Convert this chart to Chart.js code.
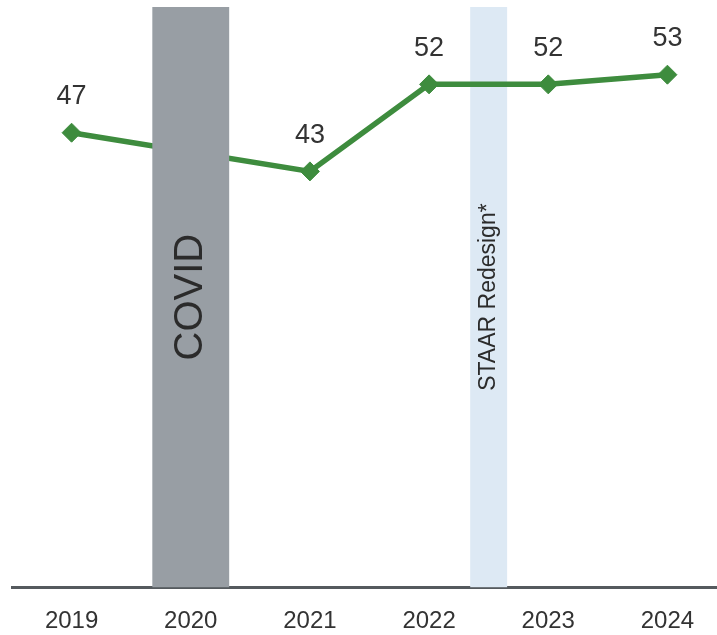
<!DOCTYPE html>
<html>
<head>
<meta charset="utf-8">
<script src="https://cdn.jsdelivr.net/npm/chart.js@4/dist/chart.umd.min.js"></script>
<style>
  html, body { margin: 0; padding: 0; background: #fff; overflow: hidden; }
  #wrap { width: 737px; height: 656px; position: relative; }
</style>
</head>
<body>
<div id="wrap"><canvas id="c"></canvas></div>
<script>
// ---- data ----
const years = ['2019', '2020', '2021', '2022', '2023', '2024'];
const scores = [47, null, 43, 52, 52, 53];
const bandLabels = ['COVID', 'STAAR Redesign*'];
const bandCenters = [1, 3.5];      // in category index units
const bandWidths = [0.645, 0.31];  // in category units
const yMin = 0, yMax = 60;

const bandStyles = [
  { fill: '#989ea4', text: '#2b2b2b', font: '40px "Liberation Sans", Arial, sans-serif', onTop: true },
  { fill: '#dde9f4', text: '#2b2b2b', font: '23px "Liberation Sans", Arial, sans-serif', onTop: false }
];

function drawBand(chart, i) {
  const ctx = chart.ctx;
  const x = chart.scales.x;
  const y = chart.scales.y;
  const step = x.getPixelForValue(1) - x.getPixelForValue(0);
  const cx = x.getPixelForValue(0) + bandCenters[i] * step;
  const w = bandWidths[i] * step;
  const top = y.getPixelForValue(yMax);
  const bottom = y.getPixelForValue(yMin);
  const st = bandStyles[i];
  ctx.save();
  ctx.fillStyle = st.fill;
  ctx.fillRect(cx - w / 2, top, w, bottom - top);
  ctx.translate(cx, (top + bottom) / 2);
  ctx.rotate(-Math.PI / 2);
  ctx.fillStyle = st.text;
  ctx.font = st.font;
  ctx.textAlign = 'center';
  ctx.textBaseline = 'middle';
  ctx.fillText(bandLabels[i], 0, 0);
  ctx.restore();
}

const bandsPlugin = {
  id: 'bands',
  beforeDatasetsDraw(chart) {
    bandLabels.forEach((_, i) => { if (!bandStyles[i].onTop) drawBand(chart, i); });
  },
  afterDatasetsDraw(chart) {
    bandLabels.forEach((_, i) => { if (bandStyles[i].onTop) drawBand(chart, i); });
    // value labels
    const ctx = chart.ctx;
    const meta = chart.getDatasetMeta(0);
    ctx.save();
    ctx.fillStyle = '#333333';
    ctx.font = '27px "Liberation Sans", Arial, sans-serif';
    ctx.textAlign = 'center';
    ctx.textBaseline = 'middle';
    meta.data.forEach((pt, idx) => {
      const v = scores[idx];
      if (v === null || v === undefined) return;
      ctx.fillText(String(v), pt.x, pt.y - 36);
    });
    ctx.restore();
  }
};

new Chart(document.getElementById('c'), {
  type: 'line',
  data: {
    labels: years,
    datasets: [{
      data: scores,
      borderColor: '#3e8c3e',
      backgroundColor: '#3e8c3e',
      borderWidth: 5.5,
      pointStyle: 'rectRot',
      pointRadius: 9.5,
      pointBorderWidth: 1,
      spanGaps: true,
      tension: 0
    }]
  },
  options: {
    responsive: true,
    maintainAspectRatio: false,
    animation: false,
    layout: { autoPadding: false, padding: { left: 12, right: 10, top: 7, bottom: 0 } },
    plugins: { legend: { display: false }, tooltip: { enabled: false } },
    scales: {
      x: {
        offset: true,
        grid: { display: false, drawTicks: false },
        border: { display: true, color: '#555a5e', width: 3 },
        ticks: {
          color: '#333333',
          font: { size: 24, family: '"Liberation Sans", Arial, sans-serif' },
          padding: 20
        }
      },
      y: {
        display: false,
        min: yMin,
        max: yMax
      }
    }
  },
  plugins: [bandsPlugin]
});
</script>
</body>
</html>
